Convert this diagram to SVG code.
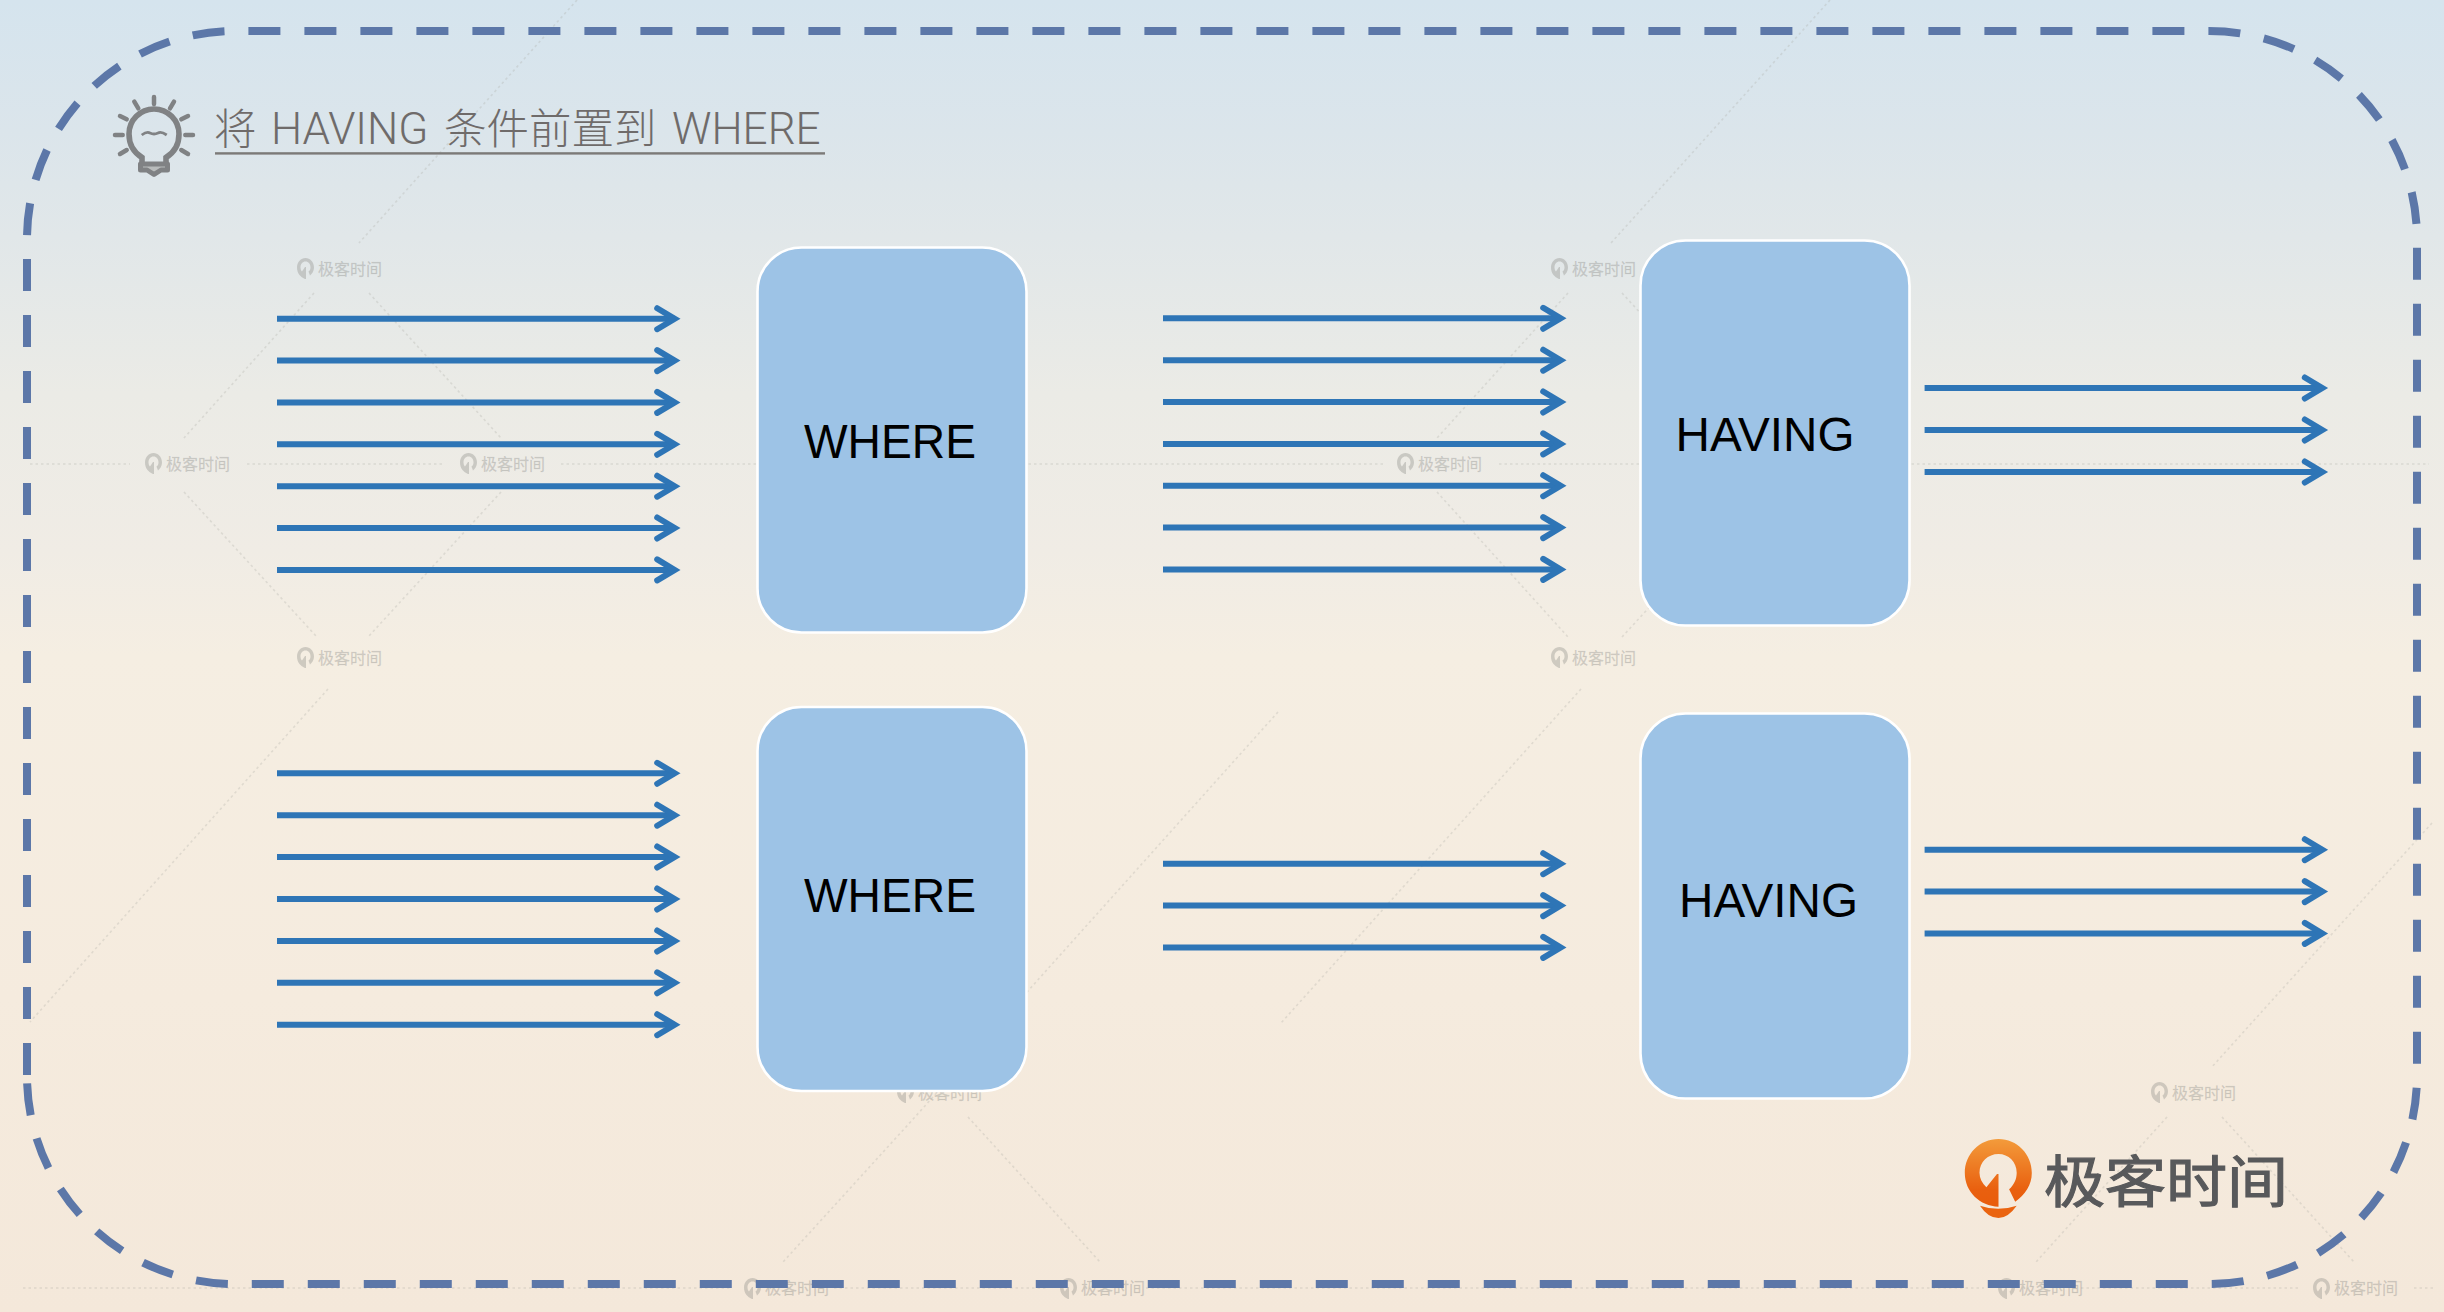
<svg xmlns="http://www.w3.org/2000/svg" xmlns:xlink="http://www.w3.org/1999/xlink" width="2444" height="1312" viewBox="0 0 2444 1312">
<style>
.frame{fill:none;stroke:#5c77a8;stroke-width:8;stroke-dasharray:32 24}
.box{fill:#9dc3e6;stroke:#fff;stroke-width:2.6}
.lbl{font-family:"Liberation Sans",Arial,sans-serif;font-size:48px;fill:#000}
.title{font-family:"Roboto","Noto Sans CJK SC",sans-serif;font-weight:300;font-size:44px;fill:#6f6b6a}
.cj{font-family:"Noto Sans CJK SC",sans-serif;font-weight:300;font-size:42.5px}
.arr{fill:none;stroke:#2e75b6;stroke-width:6;marker-end:url(#chev)}
.dot{fill:none;stroke:#a8a8a0;stroke-opacity:.28;stroke-width:1.6;stroke-dasharray:2.5 3}
.wm{font-family:"Noto Sans CJK SC",sans-serif;font-size:16px;fill:#8a8a86;fill-opacity:.34;stroke:#8a8a86;stroke-opacity:.2;stroke-width:.4}
.ray{stroke:#808284;stroke-width:4.5;stroke-linecap:round;fill:none}
</style>
<defs>
<linearGradient id="bg" x1="0" y1="0" x2="0" y2="1">
<stop offset="0" stop-color="#d5e4ee"/>
<stop offset=".1" stop-color="#dbe5eb"/>
<stop offset=".18" stop-color="#e1e7e9"/>
<stop offset=".3" stop-color="#ebebe6"/>
<stop offset=".42" stop-color="#f0ece5"/>
<stop offset=".5" stop-color="#f5eee2"/>
<stop offset=".76" stop-color="#f5ebde"/>
<stop offset="1" stop-color="#f4e8da"/>
</linearGradient>
<linearGradient id="pin" x1="0" y1="0" x2="0" y2="1">
<stop offset="0" stop-color="#f39b3b"/>
<stop offset=".75" stop-color="#e9600f"/>
<stop offset="1" stop-color="#e95c0c"/>
</linearGradient>
<marker id="chev" markerUnits="userSpaceOnUse" viewBox="0 0 34 34" markerWidth="34" markerHeight="34" refX="22" refY="17" orient="auto">
<path d="M4.5 6.5L22 17L4.5 27.5" fill="none" stroke="#2e75b6" stroke-width="6" stroke-linecap="round"/>
</marker>
<path id="wmi" d="M8 21C3 18.500 0 15 0 9.500C0 4 4 0 8.500 0C13 0 17 4 17 9.500C17 13 15 16 13 17.500L11.500 13.500C13 12.500 13.500 11 13.500 9.500C13.500 6 11.500 3.500 8.500 3.500C5.500 3.500 3.500 6 3.500 9.500C3.500 11 4 12.500 5 13.500L8 9L9 9V21Z" fill="#8a8a86" fill-opacity=".36"/>
</defs>
<rect id="background" width="2444" height="1312" fill="url(#bg)"/>
<g id="watermark">
<path class="dot" d="M30 464H130M247 464H442M561 464H1384M1499 464H2429M23 1288H730M834 1288H1046M1146 1288H1984M2081 1288H2299M2414 1288H2433"/>
<path class="dot" d="M314 293L184 438M369 293L501 438M184 492L316 636M501 492L369 636M577 0L359 243M328 689L30 1022M1568 293L1437 438M1622 293L1755 438M1437 492L1568 637M1622 637L1755 492M1830 0L1611 243M1581 689L1281 1023M1278 712L915 1117L783 1262M968 1117L1100 1262M2167 1117L2036 1262M2222 1117L2354 1262M2432 823L2211 1068"/>
<use xlink:href="#wmi" x="297" y="258"/><text class="wm" x="318" y="275">极客时间</text>
<use xlink:href="#wmi" x="1551" y="258"/><text class="wm" x="1572" y="275">极客时间</text>
<use xlink:href="#wmi" x="145" y="453"/><text class="wm" x="166" y="470">极客时间</text>
<use xlink:href="#wmi" x="460" y="453"/><text class="wm" x="481" y="470">极客时间</text>
<use xlink:href="#wmi" x="1397" y="453"/><text class="wm" x="1418" y="470">极客时间</text>
<use xlink:href="#wmi" x="297" y="647"/><text class="wm" x="318" y="664">极客时间</text>
<use xlink:href="#wmi" x="1551" y="647"/><text class="wm" x="1572" y="664">极客时间</text>
<use xlink:href="#wmi" x="897" y="1082"/><text class="wm" x="918" y="1099">极客时间</text>
<use xlink:href="#wmi" x="2151" y="1082"/><text class="wm" x="2172" y="1099">极客时间</text>
<use xlink:href="#wmi" x="744" y="1278"/><text class="wm" x="765" y="1294">极客时间</text>
<use xlink:href="#wmi" x="1060" y="1278"/><text class="wm" x="1081" y="1294">极客时间</text>
<use xlink:href="#wmi" x="1998" y="1278"/><text class="wm" x="2019" y="1294">极客时间</text>
<use xlink:href="#wmi" x="2313" y="1278"/><text class="wm" x="2334" y="1294">极客时间</text>
</g>
<path id="outer-frame" class="frame" d="M27 1075V239A208 208 0 0 1 235 31H2209A208 208 0 0 1 2417 239V1076A208 208 0 0 1 2209 1284H235A208 208 0 0 1 27 1076"/>
<g id="title">
<g id="bulb">
<path class="ray" d="M154 97V104M134.300 101.700L138.300 108.300M174 101.700L170 108.300M120 116L126.700 119.300M188 116L181.300 119.300M115 135H122.700M193 135H185.300M120 154L126.700 150M188 154L181.300 150"/>
<path d="M142 162V157.500C133 152 129 144 129 134A25 25 0 0 1 179 134C179 144 175 152 166 157.500V162" fill="none" stroke="#808284" stroke-width="5.600"/>
<path d="M141.700 135Q147 131 150 133Q154 135 158 133Q161 131 166.700 135" fill="none" stroke="#808284" stroke-width="2.800"/>
<path d="M140.500 164H167.500V170H161L154 174.500L147 170H140.500Z" fill="#b9bcbc" stroke="#808284" stroke-width="5" stroke-linejoin="round"/>
</g>
<text class="title" y="144"><tspan class="cj" x="214">将</tspan><tspan x="271">HAVING</tspan><tspan class="cj" x="444">条件前置到</tspan><tspan x="672">WHERE</tspan></text>
<rect x="215" y="152.200" width="610" height="2.400" fill="#7c7a78"/>
</g>
<g id="connectors">
<path class="arr" d="M277 318.700H674.700"/><path class="arr" d="M277 360.600H674.700"/><path class="arr" d="M277 402.400H674.700"/><path class="arr" d="M277 444.300H674.700"/><path class="arr" d="M277 486.200H674.700"/><path class="arr" d="M277 528H674.700"/><path class="arr" d="M277 569.900H674.700"/>
<path class="arr" d="M1163 318.300H1560.700"/><path class="arr" d="M1163 360.200H1560.700"/><path class="arr" d="M1163 402H1560.700"/><path class="arr" d="M1163 443.900H1560.700"/><path class="arr" d="M1163 485.700H1560.700"/><path class="arr" d="M1163 527.600H1560.700"/><path class="arr" d="M1163 569.400H1560.700"/>
<path class="arr" d="M1924.600 388H2322.300"/><path class="arr" d="M1924.600 430H2322.300"/><path class="arr" d="M1924.600 472H2322.300"/>
<path class="arr" d="M277 773.300H674.700"/><path class="arr" d="M277 815.200H674.700"/><path class="arr" d="M277 857H674.700"/><path class="arr" d="M277 899H674.700"/><path class="arr" d="M277 941H674.700"/><path class="arr" d="M277 982.800H674.700"/><path class="arr" d="M277 1024.700H674.700"/>
<path class="arr" d="M1163 863.700H1560.700"/><path class="arr" d="M1163 905.600H1560.700"/><path class="arr" d="M1163 947.400H1560.700"/>
<path class="arr" d="M1924.600 849.700H2322.300"/><path class="arr" d="M1924.600 891.600H2322.300"/><path class="arr" d="M1924.600 933.400H2322.300"/>
</g>
<g id="where-1"><rect class="box" x="757.500" y="247.500" width="269" height="385" rx="44"/><text class="lbl" x="804" y="458" textLength="172" lengthAdjust="spacingAndGlyphs">WHERE</text></g>
<g id="having-1"><rect class="box" x="1640.500" y="240.500" width="269" height="385" rx="45"/><text class="lbl" x="1675.500" y="451" textLength="179" lengthAdjust="spacingAndGlyphs">HAVING</text></g>
<g id="where-2"><rect class="box" x="757.500" y="707" width="269" height="384" rx="44"/><text class="lbl" x="804" y="912" textLength="172" lengthAdjust="spacingAndGlyphs">WHERE</text></g>
<g id="having-2"><rect class="box" x="1640.500" y="713.500" width="269" height="385" rx="45"/><text class="lbl" x="1679" y="917" textLength="179" lengthAdjust="spacingAndGlyphs">HAVING</text></g>
<g id="logo">
<path fill="url(#pin)" d="M1998.500 1206.700C1980 1206 1964.800 1192 1964.800 1173C1964.800 1154 1979.500 1139 1998.500 1139C2017 1139 2031.800 1154 2031.800 1173C2031.800 1185 2025 1195 2015.200 1201.700L2009.100 1189.300C2014 1185 2016.700 1179 2016.700 1172.700C2016.700 1162 2008.500 1154 1998.500 1154C1988 1154 1979.500 1162 1979.500 1172.700C1979.500 1178 1982 1183 1986.400 1187.300L1997 1174H1998.500Z"/>
<path fill="#ea6410" d="M1980 1205.700Q1998 1212 2016.700 1205.700Q2008 1218 1998.500 1218Q1988 1218 1980 1205.700Z"/>
<text transform="translate(2044 1201.500) scale(1 .92)" font-family="'Noto Sans CJK SC',sans-serif" font-size="61" fill="#58595b" stroke="#58595b" stroke-width="1.200">极客时间</text>
</g>
</svg>
